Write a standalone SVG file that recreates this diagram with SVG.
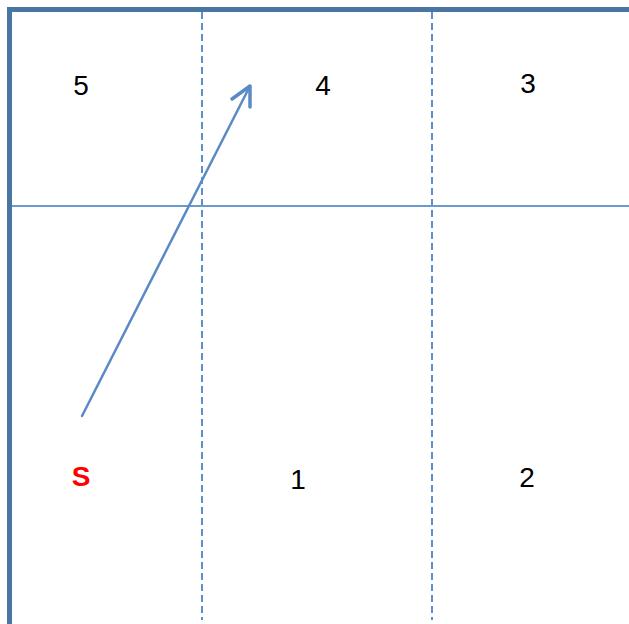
<svg xmlns="http://www.w3.org/2000/svg" width="629" height="624" viewBox="0 0 629 624">
<style>
.border{stroke:#4a74a2;stroke-width:5;fill:none}
.dash{stroke:#5b8fd0;stroke-width:2;stroke-dasharray:7 4;fill:none}
.hline{stroke:#6a9ad0;stroke-width:1.8;fill:none}
.arrow{stroke:#5a8ac6;stroke-width:2.5;fill:none;stroke-linecap:round;stroke-linejoin:round}
.head{stroke:#5a8ac6;stroke-width:3.5;fill:none;stroke-linecap:round;stroke-linejoin:round}
.lbl{font-family:"Liberation Sans",Arial,sans-serif;font-size:28px;fill:#000;text-anchor:middle}
.s{font-family:"Liberation Sans",Arial,sans-serif;font-size:28px;font-weight:bold;fill:#ff0000;text-anchor:middle}
</style>
<rect width="629" height="624" fill="#fff"/>
<g id="grid">
<path class="border" d="M9.5 624 V9.5 H629"/>
<line class="dash" x1="202" y1="12" x2="202" y2="620"/>
<line class="dash" x1="432" y1="12" x2="432" y2="620"/>
<line class="hline" x1="12" y1="206" x2="629" y2="206"/>
</g>
<g id="connectors">
<path class="arrow" d="M82 416 L250 86"/>
<path class="head" d="M232 99 L250 86 L250 107"/>
</g>
<g id="cell5"><text class="lbl" x="81" y="95">5</text></g>
<g id="cell4"><text class="lbl" x="323" y="95">4</text></g>
<g id="cell3"><text class="lbl" x="528" y="93">3</text></g>
<g id="cellS"><text class="s" x="81" y="486">S</text></g>
<g id="cell1"><text class="lbl" x="298" y="489">1</text></g>
<g id="cell2"><text class="lbl" x="527" y="487">2</text></g>
</svg>
